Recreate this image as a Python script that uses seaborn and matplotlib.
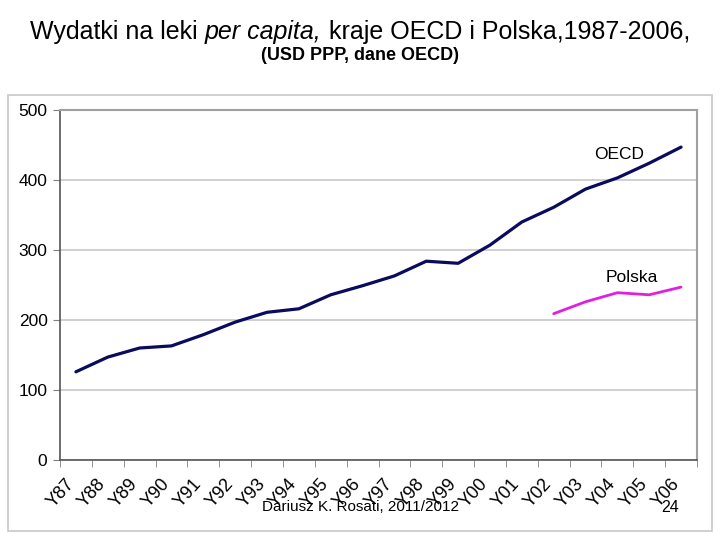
import matplotlib

matplotlib.use("Agg")
import matplotlib.pyplot as plt
import matplotlib.transforms as mtrans
import numpy as np
import pandas as pd
import seaborn as sns
from matplotlib.patches import Rectangle

years = ["Y87", "Y88", "Y89", "Y90", "Y91", "Y92", "Y93", "Y94", "Y95", "Y96",
         "Y97", "Y98", "Y99", "Y00", "Y01", "Y02", "Y03", "Y04", "Y05", "Y06"]
oecd = [126, 147, 160, 163, 179, 197, 211, 216, 236, 249,
        263, 284, 281, 307, 340, 361, 387, 403, 424, 447]
polska_years = ["Y02", "Y03", "Y04", "Y05", "Y06"]
polska = [209, 226, 239, 236, 247]

NARROW = ["Liberation Sans Narrow", "Liberation Sans", "DejaVu Sans"]


def main():
    sns.set_style("white")
    plt.rcParams["font.family"] = ["Liberation Sans", "DejaVu Sans"]
    plt.rcParams.update({"text.color": "black", "xtick.color": "black",
                         "ytick.color": "black", "axes.labelcolor": "black"})

    pos = {y: i for i, y in enumerate(years)}
    df_oecd = pd.DataFrame({"x": [pos[y] for y in years], "v": oecd})
    df_pl = pd.DataFrame({"x": [pos[y] for y in polska_years], "v": polska})

    fig = plt.figure(figsize=(7.2, 5.4), dpi=100)
    ax = fig.add_axes([60 / 720, 1 - 460 / 540, 637 / 720, 350 / 540])

    sns.lineplot(data=df_oecd, x="x", y="v", ax=ax, color="#0a0a5e", linewidth=2.3)
    sns.lineplot(data=df_pl, x="x", y="v", ax=ax, color="#e020e0", linewidth=2.0)

    ax.set_xlim(-0.5, len(years) - 0.5)
    ax.set_ylim(0, 500)
    ax.set_yticks(range(0, 501, 100))
    ax.set_xticks(range(len(years)))
    ax.set_xticklabels(years, rotation=48, ha="right", rotation_mode="anchor")
    ax.set_xticks(np.arange(-0.5, len(years)), minor=True)
    ax.tick_params(axis="x", which="major", length=0, pad=11, labelsize=13)
    ax.tick_params(axis="x", which="minor", length=5, color="#808080", direction="out", bottom=True)
    ax.tick_params(axis="y", length=5, color="#808080", direction="out", left=True,
                   labelsize=12.5, pad=4)
    # nudge the rotated labels to the left, as in the original
    shift = mtrans.ScaledTranslation(-0.11, 0, fig.dpi_scale_trans)
    for lab in ax.get_xticklabels():
        lab.set_transform(lab.get_transform() + shift)
    ax.set_xlabel("")
    ax.set_ylabel("")
    ax.yaxis.grid(True, color="#c8c8c8", linewidth=1.2)
    ax.set_axisbelow(True)
    for side in ["left", "bottom"]:
        ax.spines[side].set_color("#555555")
        ax.spines[side].set_linewidth(1.2)
    for side in ["top", "right"]:
        ax.spines[side].set_color("#a0a0a0")
        ax.spines[side].set_linewidth(1.5)

    ax.text(17.05, 436, "OECD", fontsize=12.5, ha="center", va="center")
    ax.text(17.46, 260, "Polska", fontsize=12.5, ha="center", va="center")

    # outer frame of the chart
    fig.patches.append(Rectangle((8 / 720, 1 - 531 / 540), 704 / 720, 436 / 540,
                                 transform=fig.transFigure, fill=False,
                                 edgecolor="#c8c8c8", linewidth=1.2))

    # title with an italic piece in the middle
    parts = [("Wydatki na leki ", "normal"), ("per capita,", "italic"),
             (" kraje OECD i Polska,1987-2006,", "normal")]
    texts = [fig.text(0, 1 - 32 / 540, s, fontsize=18, style=st, va="center")
             for s, st in parts]
    r = fig.canvas.get_renderer()
    widths = [t.get_window_extent(r).width for t in texts]
    x = 360 - sum(widths) / 2
    for t, w in zip(texts, widths):
        t.set_x(x / 720)
        x += w

    fig.text(0.5, 1 - 56 / 540, "(USD PPP, dane OECD)", fontsize=13, weight="bold",
             ha="center", va="center", family=NARROW)
    fig.text(0.5, 1 - 507 / 540, "Dariusz K. Rosati, 2011/2012", fontsize=11,
             ha="center", va="center", family=NARROW)
    fig.text(670 / 720, 1 - 507 / 540, "24", fontsize=11.5, ha="center", va="center",
             family=NARROW)

    plt.savefig("out.png", dpi=100)


if __name__ == "__main__":
    main()
